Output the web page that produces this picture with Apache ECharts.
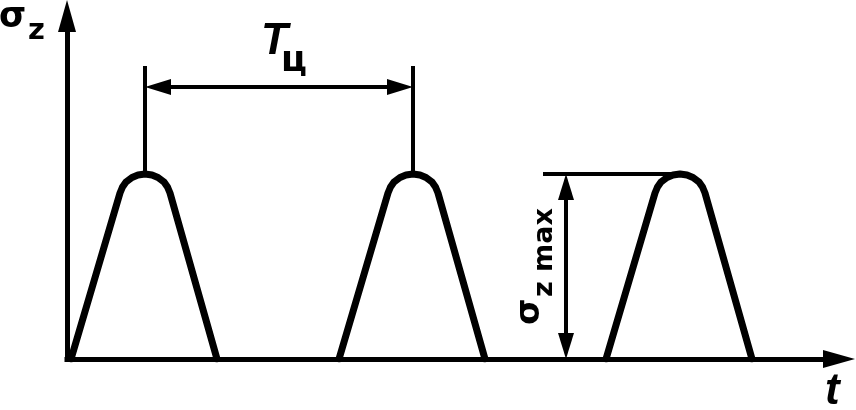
<!DOCTYPE html>
<html>
<head>
<meta charset="utf-8">
<title></title>
<script type="text/javascript" src="https://cdn.jsdelivr.net/npm/echarts@6/dist/echarts.min.js"></script>
<style>
html, body { margin: 0; padding: 0; background: #fff; }
#chart { width: 856px; height: 410px; }
</style>
</head>
<body>
<div id="chart"></div>
<script type="text/javascript">
// pulses: time / stress (axis units ~ px)
var pulseX1 = [4, 53, 55.5, 59, 65, 71, 78, 85, 91, 97, 100.5, 103, 150];
var pulseX2 = [272, 321, 323.5, 327, 333, 339, 346, 353, 359, 365, 368.5, 371, 418];
var pulseX3 = [539, 588, 590.5, 594, 600, 606, 613, 620, 626, 632, 635.5, 638, 685];
var pulseY = [0, 166, 172, 177, 181.5, 184, 185, 184, 181.5, 177, 172, 166, 0];

// T_ц dimension
var cycleTickX = [78, 346];
var cycleTickY = [185, 293];
var cycleArrowY = 272;

// σz max dimension
var ampArrowX = 499;
var ampArrowY = [0, 185];
var ampTickX = [476, 613];

var axisMaxX = 772;
var axisMaxY = 343;

function pts(xs, ys) {
	return xs.map(function (x, i) { return [x, ys[i]]; });
}

function lineSeries(data, width, cap) {
	return {
		type: 'line',
		data: data,
		symbol: 'none',
		silent: true,
		lineStyle: { color: '#000', width: width, cap: cap, join: 'round' }
	};
}

// dimension lines with arrow heads on both ends
var arrows = [
	[cycleTickX[0], cycleArrowY, cycleTickX[1], cycleArrowY],
	[ampArrowX, ampArrowY[0], ampArrowX, ampArrowY[1]]
];

function renderArrow(params, api) {
	var a = api.coord([api.value(0), api.value(1)]);
	var b = api.coord([api.value(2), api.value(3)]);
	var dx = b[0] - a[0], dy = b[1] - a[1];
	var len = Math.sqrt(dx * dx + dy * dy);
	var ux = dx / len, uy = dy / len;
	var nx = -uy, ny = ux;
	var L = 26, W = 16;
	var headB = [b, [b[0] - ux * L + nx * W / 2, b[1] - uy * L + ny * W / 2], [b[0] - ux * L - nx * W / 2, b[1] - uy * L - ny * W / 2]];
	var headA = [a, [a[0] + ux * L + nx * W / 2, a[1] + uy * L + ny * W / 2], [a[0] + ux * L - nx * W / 2, a[1] + uy * L - ny * W / 2]];
	return {
		type: 'group',
		children: [
			{ type: 'line', shape: { x1: a[0] + ux * (L - 2), y1: a[1] + uy * (L - 2), x2: b[0] - ux * (L - 2), y2: b[1] - uy * (L - 2) }, style: { stroke: '#000', lineWidth: 4 } },
			{ type: 'polygon', shape: { points: headA }, style: { fill: '#000' } },
			{ type: 'polygon', shape: { points: headB }, style: { fill: '#000' } }
		]
	};
}

// labels, anchored to points of the chart
var labelAnchors = [
	[0, axisMaxY],
	[(cycleTickX[0] + cycleTickX[1]) / 2, cycleArrowY],
	[ampArrowX, 0],
	[axisMaxX, 0]
];
var fontG = 'DejaVu Sans';
var fontL = 'Liberation Sans';
var labelParts = [
	[{ t: 'σ', dx: -68, dy: 2, size: 35, fam: fontG }, { t: 'z', dx: -39, dy: 15, size: 29, fam: fontG }],
	[{ t: 'T', dx: -18, dy: -45.5, size: 44, fam: fontL, it: true }, { t: 'ц', dx: 2, dy: -25.5, size: 35, fam: fontG }],
	[{ t: 'σ', dx: -36, dy: -34, rot: true, size: 34, fam: fontG }, { t: 'z max', dx: -21, dy: -62, rot: true, size: 27, fam: fontG }],
	[{ t: 't', dx: -14, dy: 32.5, size: 44, fam: fontL, it: true }]
];

function renderLabel(params, api) {
	var p = api.coord([api.value(0), api.value(1)]);
	var parts = labelParts[params.dataIndex];
	return {
		type: 'group',
		children: parts.map(function (s) {
			return {
				type: 'text',
				x: p[0] + s.dx,
				y: p[1] + s.dy,
				rotation: s.rot ? Math.PI / 2 : 0,
				style: {
					text: s.t,
					fontSize: s.size,
					fontFamily: s.fam,
					fontWeight: 'bold',
					fontStyle: s.it ? 'italic' : 'normal',
					fill: '#000',
					align: 'left',
					verticalAlign: 'middle'
				}
			};
		})
	};
}

var myChart = echarts.init(document.getElementById('chart'));
var axisLine = {
	show: true,
	onZero: false,
	symbol: ['none', 'triangle'],
	symbolSize: [18, 32],
	lineStyle: { color: '#000', width: 5, cap: 'square' }
};
var option = {
	animation: false,
	grid: { left: 67, right: 17, top: 16, bottom: 51 },
	xAxis: {
		type: 'value', min: 0, max: axisMaxX,
		axisLine: axisLine, axisTick: { show: false }, axisLabel: { show: false }, splitLine: { show: false }
	},
	yAxis: {
		type: 'value', min: 0, max: axisMaxY,
		axisLine: axisLine, axisTick: { show: false }, axisLabel: { show: false }, splitLine: { show: false }
	},
	series: [
		lineSeries(pts(pulseX1, pulseY), 7, 'round'),
		lineSeries(pts(pulseX2, pulseY), 7, 'round'),
		lineSeries(pts(pulseX3, pulseY), 7, 'round'),
		lineSeries([[cycleTickX[0], cycleTickY[0]], [cycleTickX[0], cycleTickY[1]]], 4, 'butt'),
		lineSeries([[cycleTickX[1], cycleTickY[0]], [cycleTickX[1], cycleTickY[1]]], 4, 'butt'),
		lineSeries([[ampTickX[0], ampArrowY[1]], [ampTickX[1], ampArrowY[1]]], 4, 'butt'),
		{ type: 'custom', data: arrows, renderItem: renderArrow, clip: false, silent: true },
		{ type: 'custom', data: labelAnchors, renderItem: renderLabel, clip: false, silent: true }
	]
};
myChart.setOption(option);
</script>
</body>
</html>
